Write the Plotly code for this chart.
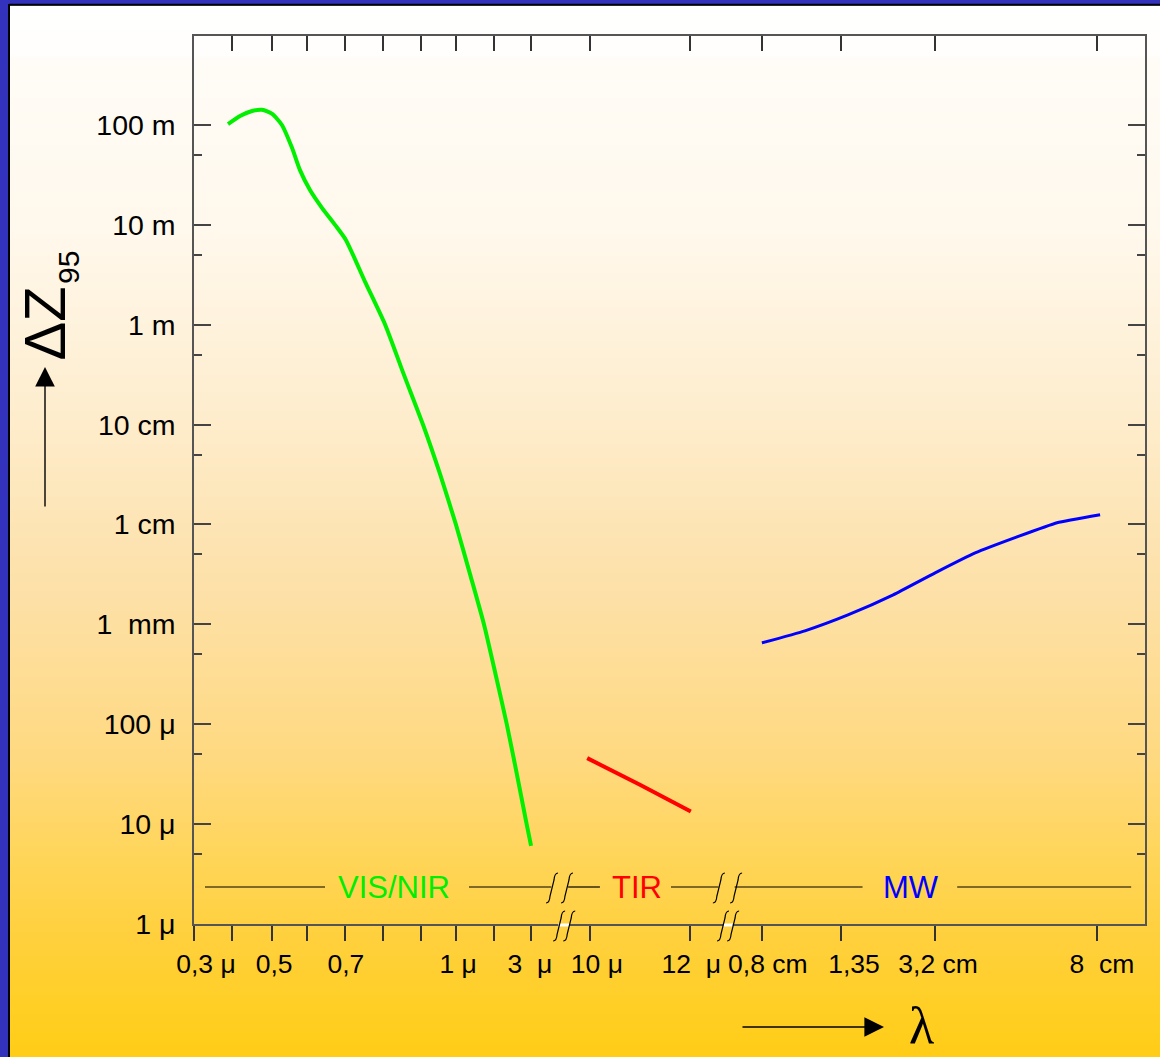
import base64
import struct
import zlib

import plotly.graph_objects as go

# ---------------------------------------------------------------- data ----
# The x axis of the original is a hand-made, broken wavelength scale.
# Positions are given in "slot" units along that axis.
tick_pos = [0, 1.01, 2.09, 3.03, 4.04, 5.04, 6.06, 7.0, 8.03, 9.0,
            10.59, 13.26, 15.19, 17.29, 19.81, 24.13]
label_pos = [0.32, 2.14, 4.06, 7.06, 8.98, 10.77, 13.29, 15.34, 17.64, 19.89, 24.27]
label_text = ["0,3 μ", "0,5", "0,7", "1 μ", "3\u00a0\u00a0μ", "10 μ", "12\u00a0\u00a0μ",
              "0,8 cm", "1,35", "3,2 cm", "8\u00a0\u00a0cm"]

# y axis: ΔZ95 in metres (log scale)
y_tick_vals = [1e-6, 1e-5, 1e-4, 1e-3, 1e-2, 1e-1, 1, 10, 100]
y_tick_text = ["1 μ", "10 μ", "100 μ", "1\u00a0\u00a0mm", "1 cm", "10 cm", "1 m", "10 m", "100 m"]
y_minor_vals = [5e-6, 5e-5, 5e-4, 5e-3, 5e-2, 0.5, 5, 50]

# VIS/NIR curve
vis_pos = [0.91, 1.23, 1.55, 1.82, 2.09, 2.35, 2.62, 2.83, 3.10, 3.42, 3.77, 4.06,
           4.57, 5.11, 5.61, 6.12, 6.58, 7.00, 7.38, 7.75, 8.06, 8.36, 8.63,
           8.89, 9.01]
vis_dz = [102, 123, 138, 142, 129, 100, 59, 35.5, 22.3, 14.8, 10.0, 7.06,
          2.7, 1.0, 0.316, 0.1, 0.0316, 0.01, 0.00316, 0.001, 3.16e-4, 1e-4, 3.16e-5,
          1e-5, 6.04e-6]

# TIR curve
tir_pos = [10.51, 11.92, 13.28]
tir_dz = [4.56e-5, 2.47e-5, 1.33e-5]

# MW curve
mw_pos = [15.18, 16.33, 17.48, 18.69, 19.81, 20.88, 22.0, 23.07, 24.22]
mw_dz = [6.50e-4, 8.59e-4, 1.24e-3, 1.97e-3, 3.27e-3, 5.18e-3, 7.50e-3, 1.04e-2, 1.25e-2]

# spectral bands shown in the strip above the x axis
band_names = ["VIS/NIR", "TIR", "MW"]
band_label_pos = [5.35, 11.83, 19.17]
band_colors = ["#00EE00", "#FF0000", "#0000FF"]

# ------------------------------------------------------------- layout ----
W, H = 1160, 1057
PL, PR, PT, PB = 194, 1145, 36, 924
XMAX = 25.42


def px_x(px):
    return (px - PL) / (PR - PL)


def px_y(py):
    return (PB - py) / (PB - PT)


def gradient_png(stops, y0, y1):
    rows = []
    for y in range(int(y0), int(y1) + 1):
        for i in range(len(stops) - 1):
            ya, ca = stops[i]
            yb, cb = stops[i + 1]
            if ya <= y <= yb:
                t = (y - ya) / (yb - ya) if yb > ya else 0
                rows.append(tuple(int(round(ca[k] + (cb[k] - ca[k]) * t)) for k in range(3)))
                break
        else:
            rows.append(stops[-1][1])
    w = 2
    raw = b"".join(b"\x00" + bytes(rgb) * w for rgb in rows)

    def chunk(tag, data):
        c = struct.pack(">I", len(data)) + tag + data
        return c + struct.pack(">I", zlib.crc32(tag + data) & 0xFFFFFFFF)

    png = (b"\x89PNG\r\n\x1a\n"
           + chunk(b"IHDR", struct.pack(">IIBBBBB", w, len(rows), 8, 2, 0, 0, 0))
           + chunk(b"IDAT", zlib.compress(raw, 9))
           + chunk(b"IEND", b""))
    return "data:image/png;base64," + base64.b64encode(png).decode()


grad_stops = [
    (5, (255, 255, 255)), (55, (255, 254, 252)), (58, (255, 252, 247)),
    (230, (255, 248, 236)), (400, (254, 238, 208)), (530, (253, 228, 180)),
    (600, (253, 224, 166)), (760, (255, 217, 128)), (860, (255, 213, 88)),
    (940, (255, 208, 60)), (1000, (255, 207, 40)), (1057, (255, 205, 22)),
]
grad_src = gradient_png(grad_stops, 5, 1057)

fig = go.Figure()

fig.add_trace(go.Scatter(x=vis_pos, y=vis_dz, mode="lines", name="VIS/NIR",
                         line=dict(color="#00F000", width=4, shape="spline", smoothing=0.6)))
fig.add_trace(go.Scatter(x=tir_pos, y=tir_dz, mode="lines", name="TIR",
                         line=dict(color="#FF0000", width=4, shape="spline", smoothing=0.6)))
fig.add_trace(go.Scatter(x=mw_pos, y=mw_dz, mode="lines", name="MW",
                         line=dict(color="#0000FF", width=3, shape="spline", smoothing=0.4)))
fig.add_trace(go.Scatter(x=[None], y=[None], xaxis="x2", showlegend=False, hoverinfo="skip"))
fig.add_trace(go.Scatter(x=[None], y=[None], xaxis="x3", showlegend=False, hoverinfo="skip"))

shapes = []
# panel frame (black) lines
shapes.append(dict(type="line", xref="paper", yref="paper", x0=px_x(9), x1=px_x(W + 5),
                   y0=px_y(4.8), y1=px_y(4.8), line=dict(color="black", width=2), layer="below"))
shapes.append(dict(type="line", xref="paper", yref="paper", x0=px_x(9), x1=px_x(9),
                   y0=px_y(4), y1=px_y(H + 5), line=dict(color="black", width=2), layer="below"))

# band strip lines
band_y = px_y(887)
for a, b in [(0.294, 3.502), (7.35, 9.55), (10.0, 10.85), (12.75, 14.02), (14.45, 17.87), (20.40, 25.05)]:
    shapes.append(dict(type="line", xref="x", yref="paper", x0=a, x1=b, y0=band_y, y1=band_y,
                       line=dict(color="black", width=1.2)))

# axis-break marks
brk_path = "M-6,-15 Q-2.5,-15 -2,-8 L2,8 Q2.5,15 6,15"
for xa in [9.57, 9.97, 14.03, 14.49]:
    shapes.append(dict(type="path", xref="x", yref="paper", xsizemode="pixel", ysizemode="pixel",
                       xanchor=xa, yanchor=px_y(888), path=brk_path,
                       line=dict(color="black", width=1.2)))
for a, b in [(9.74, 10.03), (14.15, 14.40)]:
    shapes.append(dict(type="line", xref="x", yref="paper", x0=a, x1=b, y0=px_y(925), y1=px_y(925),
                       line=dict(color="white", width=3), layer="above"))
for xa in [9.76, 10.03, 14.14, 14.41]:
    shapes.append(dict(type="path", xref="x", yref="paper", xsizemode="pixel", ysizemode="pixel",
                       xanchor=xa, yanchor=px_y(926), path=brk_path,
                       line=dict(color="black", width=1.2)))

annotations = []
for name, pos, col in zip(band_names, band_label_pos, band_colors):
    annotations.append(dict(x=pos, y=band_y, xref="x", yref="paper", text=name, showarrow=False,
                            font=dict(size=31, color=col), xanchor="center", yanchor="middle",
                            bgcolor="rgba(0,0,0,0)"))

# y axis title ΔZ95 with arrow
annotations.append(dict(x=px_x(44), y=px_y(323.5), xref="paper", yref="paper", text="ΔZ",
                        showarrow=False, textangle=-90, font=dict(size=58, color="black"),
                        xanchor="center", yanchor="middle"))
annotations.append(dict(x=px_x(68.5), y=px_y(267.5), xref="paper", yref="paper", text="95",
                        showarrow=False, textangle=-90, font=dict(size=30, color="black"),
                        xanchor="center", yanchor="middle"))
annotations.append(dict(x=px_x(45), y=px_y(367), xref="paper", yref="paper", text="",
                        showarrow=True, ax=0, ay=141, arrowhead=2, arrowsize=2.8, arrowwidth=1.4,
                        arrowcolor="black"))
# x axis title λ with arrow
annotations.append(dict(x=px_x(921), y=px_y(1025), xref="paper", yref="paper", text="λ",
                        showarrow=False, font=dict(size=52, color="black",
                                                   family="Liberation Serif, Times New Roman, serif"),
                        xanchor="center", yanchor="middle"))
annotations.append(dict(x=px_x(884), y=px_y(1027), xref="paper", yref="paper", text="",
                        showarrow=True, ax=-143, ay=0, arrowhead=2, arrowsize=2.8, arrowwidth=1.4,
                        arrowcolor="black"))

axis_common = dict(range=[0, XMAX], showgrid=False, zeroline=False, fixedrange=True)

fig.update_layout(
    width=W, height=H, autosize=False,
    margin=dict(l=PL, r=W - PR, t=PT, b=H - PB, pad=0),
    paper_bgcolor="#3232BC", plot_bgcolor="rgba(0,0,0,0)",
    showlegend=False, hovermode=False,
    font=dict(family="Liberation Sans, Arial, sans-serif", color="black"),
    xaxis=dict(**axis_common, tickmode="array", tickvals=tick_pos, ticks="outside", ticklen=15,
               tickwidth=1.5, tickcolor="#333", showticklabels=False, showline=True,
               linecolor="#555", linewidth=1.5, mirror=True),
    xaxis2=dict(**axis_common, overlaying="x", side="top", anchor="y", tickmode="array",
                tickvals=tick_pos, ticks="inside", ticklen=15, tickwidth=1.5, tickcolor="#333",
                showticklabels=False, showline=False),
    xaxis3=dict(**axis_common, overlaying="x", side="bottom", anchor="y", tickmode="array",
                tickvals=label_pos, ticktext=label_text, ticks="", showline=False,
                tickfont=dict(size=26.5, color="black"), ticklabelstandoff=21),
    yaxis=dict(type="log", range=[-6.002, 2.891], tickmode="array", tickvals=y_tick_vals,
               ticktext=y_tick_text, ticks="inside", ticklen=17, tickwidth=1.5, tickcolor="#444",
               mirror="ticks", showline=True, linecolor="#555", linewidth=1.5, showgrid=False,
               zeroline=False, fixedrange=True, tickfont=dict(size=28.5, color="black"),
               ticklabelstandoff=11,
               minor=dict(tickmode="array", tickvals=y_minor_vals, ticks="inside", ticklen=8,
                          tickwidth=1.5, tickcolor="#444", showgrid=False)),
    shapes=shapes,
    annotations=annotations,
    images=[dict(source=grad_src, xref="paper", yref="paper", x=px_x(10), y=px_y(5.5),
                 sizex=(W - 10) / (PR - PL), sizey=(H - 5.5) / (PB - PT), xanchor="left",
                 yanchor="top", sizing="stretch", layer="below")],
)

fig.write_html("out.html")
